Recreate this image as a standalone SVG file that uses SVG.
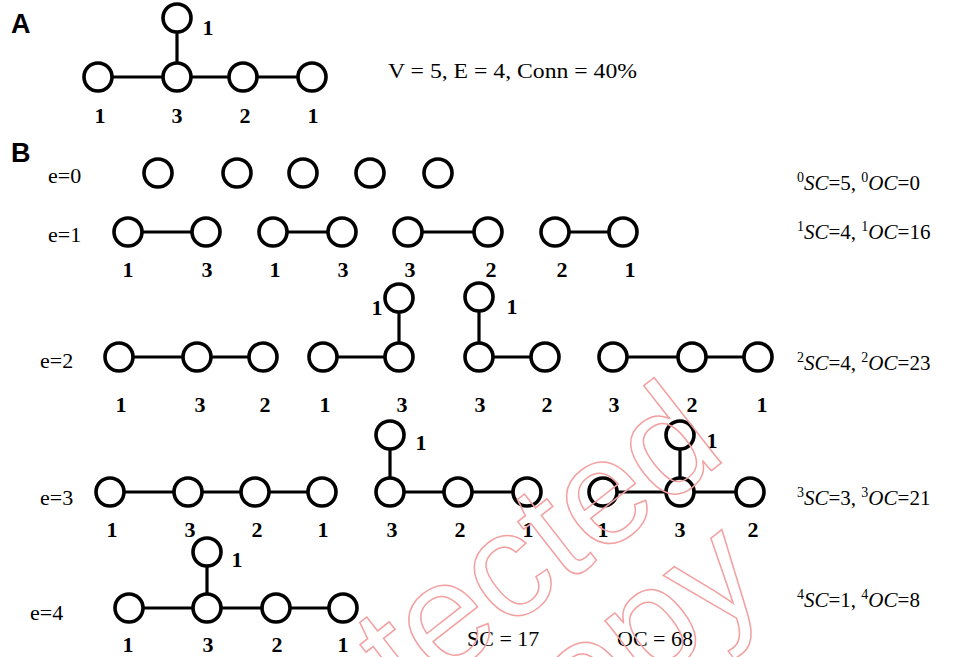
<svg xmlns="http://www.w3.org/2000/svg" width="956" height="657" viewBox="0 0 956 657">
<style>
.n{fill:#fff;stroke:#000;stroke-width:3.6}
.e{stroke:#000;stroke-width:3.2;fill:none}
.l{font-family:"Liberation Serif",serif;font-weight:bold;font-size:22px;text-anchor:middle;fill:#000}
.r{font-family:"Liberation Serif",serif;font-size:22px;fill:#000}
.s{font-family:"Liberation Serif",serif;font-size:21px;fill:#000}
.i{font-style:italic}
.p{font-size:14px}
.h{font-family:"Liberation Sans",sans-serif;font-weight:bold;font-size:27px;fill:#000}
.w{font-family:"Liberation Sans",sans-serif;font-size:150px;fill:none;stroke:#f2a0a0;stroke-width:1.5}
</style>
<rect width="956" height="657" fill="#fff"/>
<text class="h" x="11" y="33">A</text>
<text class="h" x="11" y="162">B</text>
<g id="connectors">
<path class="e" d="M98 77H312M177 18V77"/>
<path class="e" d="M128 232H206M273 232H342M408 232H488M555 232H623"/>
<path class="e" d="M119 357H263M323 357H399M399 298V357M479 297V357H545M613 357H758"/>
<path class="e" d="M110 492H322M390 435V492H527M603 492H750M680 435V492"/>
<path class="e" d="M129 608H343M207 552V608"/>
</g>
<g id="graphA">
<circle class="n" cx="98" cy="77" r="14"/><circle class="n" cx="177" cy="77" r="14"/><circle class="n" cx="243" cy="77" r="14"/><circle class="n" cx="312" cy="77" r="14"/><circle class="n" cx="177" cy="18" r="14"/>
<text class="l" x="100" y="123">1</text><text class="l" x="177" y="123">3</text><text class="l" x="245" y="123">2</text><text class="l" x="313" y="123">1</text><text class="l" x="208" y="35">1</text>
</g>
<text class="r" x="388" y="78" font-size="24" textLength="249" lengthAdjust="spacingAndGlyphs">V = 5, E = 4, Conn = 40%</text>
<g id="row0">
<text class="r" x="48" y="183">e=0</text>
<circle class="n" cx="158" cy="173" r="14"/><circle class="n" cx="237" cy="173" r="14"/><circle class="n" cx="303" cy="173" r="14"/><circle class="n" cx="370" cy="173" r="14"/><circle class="n" cx="438" cy="173" r="14"/>
<text class="s" x="797" y="190"><tspan class="p" dy="-8">0</tspan><tspan class="i" dy="8">SC</tspan>=5, <tspan class="p" dy="-8">0</tspan><tspan class="i" dy="8">OC</tspan>=0</text>
</g>
<g id="row1">
<text class="r" x="48" y="242">e=1</text>
<circle class="n" cx="128" cy="232" r="14"/><circle class="n" cx="206" cy="232" r="14"/><circle class="n" cx="273" cy="232" r="14"/><circle class="n" cx="342" cy="232" r="14"/><circle class="n" cx="408" cy="232" r="14"/><circle class="n" cx="488" cy="232" r="14"/><circle class="n" cx="555" cy="232" r="14"/><circle class="n" cx="623" cy="232" r="14"/>
<text class="l" x="128" y="277">1</text><text class="l" x="207" y="277">3</text><text class="l" x="275" y="277">1</text><text class="l" x="343" y="277">3</text><text class="l" x="410" y="277">3</text><text class="l" x="491" y="277">2</text><text class="l" x="562" y="277">2</text><text class="l" x="630" y="277">1</text>
<text class="s" x="797" y="239"><tspan class="p" dy="-8">1</tspan><tspan class="i" dy="8">SC</tspan>=4, <tspan class="p" dy="-8">1</tspan><tspan class="i" dy="8">OC</tspan>=16</text>
</g>
<g id="row2">
<text class="r" x="40" y="368">e=2</text>
<circle class="n" cx="119" cy="357" r="14"/><circle class="n" cx="197" cy="357" r="14"/><circle class="n" cx="263" cy="357" r="14"/>
<circle class="n" cx="323" cy="357" r="14"/><circle class="n" cx="399" cy="357" r="14"/><circle class="n" cx="399" cy="298" r="14"/>
<circle class="n" cx="479" cy="357" r="14"/><circle class="n" cx="545" cy="357" r="14"/><circle class="n" cx="479" cy="297" r="14"/>
<circle class="n" cx="613" cy="357" r="14"/><circle class="n" cx="692" cy="357" r="14"/><circle class="n" cx="758" cy="357" r="14"/>
<text class="l" x="121" y="412">1</text><text class="l" x="200" y="412">3</text><text class="l" x="265" y="412">2</text><text class="l" x="325" y="412">1</text><text class="l" x="402" y="412">3</text><text class="l" x="480" y="412">3</text><text class="l" x="547" y="412">2</text><text class="l" x="614" y="412">3</text><text class="l" x="692" y="412">2</text><text class="l" x="762" y="412">1</text>
<text class="l" x="377" y="315">1</text><text class="l" x="512" y="314">1</text>
<text class="s" x="797" y="370"><tspan class="p" dy="-8">2</tspan><tspan class="i" dy="8">SC</tspan>=4, <tspan class="p" dy="-8">2</tspan><tspan class="i" dy="8">OC</tspan>=23</text>
</g>
<g id="row3">
<text class="r" x="40" y="505">e=3</text>
<circle class="n" cx="110" cy="492" r="14"/><circle class="n" cx="188" cy="492" r="14"/><circle class="n" cx="255" cy="492" r="14"/><circle class="n" cx="322" cy="492" r="14"/>
<circle class="n" cx="390" cy="492" r="14"/><circle class="n" cx="458" cy="492" r="14"/><circle class="n" cx="527" cy="492" r="14"/><circle class="n" cx="390" cy="435" r="14"/>
<circle class="n" cx="603" cy="492" r="14"/><circle class="n" cx="680" cy="492" r="14"/><circle class="n" cx="750" cy="492" r="14"/><circle class="n" cx="680" cy="435" r="14"/>
<text class="l" x="112" y="537">1</text><text class="l" x="190" y="537">3</text><text class="l" x="257" y="537">2</text><text class="l" x="323" y="537">1</text><text class="l" x="392" y="537">3</text><text class="l" x="460" y="537">2</text><text class="l" x="528" y="537">1</text><text class="l" x="603" y="537">1</text><text class="l" x="680" y="537">3</text><text class="l" x="753" y="537">2</text>
<text class="l" x="421" y="450">1</text><text class="l" x="712" y="448">1</text>
<text class="s" x="797" y="505"><tspan class="p" dy="-8">3</tspan><tspan class="i" dy="8">SC</tspan>=3, <tspan class="p" dy="-8">3</tspan><tspan class="i" dy="8">OC</tspan>=21</text>
</g>
<g id="row4">
<text class="r" x="30" y="620">e=4</text>
<circle class="n" cx="129" cy="608" r="14"/><circle class="n" cx="207" cy="608" r="14"/><circle class="n" cx="276" cy="608" r="14"/><circle class="n" cx="343" cy="608" r="14"/><circle class="n" cx="207" cy="552" r="14"/>
<text class="l" x="128" y="652">1</text><text class="l" x="208" y="652">3</text><text class="l" x="277" y="652">2</text><text class="l" x="343" y="652">1</text><text class="l" x="237" y="567">1</text>
<text class="s" x="797" y="607"><tspan class="p" dy="-8">4</tspan><tspan class="i" dy="8">SC</tspan>=1, <tspan class="p" dy="-8">4</tspan><tspan class="i" dy="8">OC</tspan>=8</text>
</g>
<g id="totals">
<text class="r" x="467" y="646">SC = 17</text>
<text class="r" x="617" y="646">OC = 68</text>
</g>
<g id="watermark" transform="translate(729,457) rotate(-38)">
<text class="w" x="0" y="0" text-anchor="end">Protected</text>
<text class="w" x="-50" y="132" text-anchor="end">copy</text>
</g>
</svg>
